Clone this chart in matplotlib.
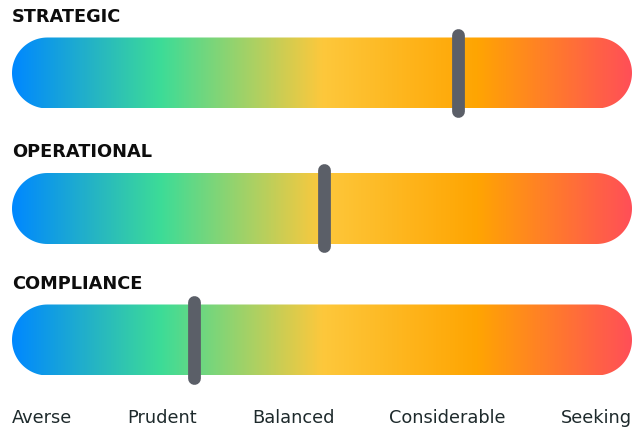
import numpy as np
import matplotlib
matplotlib.use("Agg")
import matplotlib.pyplot as plt
from matplotlib.colors import LinearSegmentedColormap
from matplotlib.patches import Polygon

# data
categories = ["STRATEGIC", "OPERATIONAL", "COMPLIANCE"]
appetite   = [72, 50.4, 29.4]          # 0 = Averse ... 100 = Seeking
scale_labels = ["Averse", "Prudent", "Balanced", "Considerable", "Seeking"]

grad_stops  = [0.0, 0.13, 0.24, 0.5, 0.75, 1.0]
grad_colors = ["#0088ff", "#25b4c4", "#3ddc97", "#fdc83c", "#ffa502", "#ff4f57"]

# layout, 1 unit = 6.2 px
W, H = 632, 433
PX = 6.2
x0 = -12 / PX
bar_centres = [73 / PX, 208.5 / PX, 340 / PX]
bar_h = 71 / PX
title_y = [17 / PX, 152 / PX, 284 / PX]
marker_half = 38 / PX
scale_y = 418 / PX

plt.rcParams['font.family'] = ['DejaVu Sans']

fig = plt.figure(figsize=(W / 100, H / 100), dpi=100)
ax = fig.add_axes([0, 0, 1, 1])
ax.set_xlim(x0, x0 + W / PX)
ax.set_ylim(H / PX, 0)
ax.axis("off")

cmap = LinearSegmentedColormap.from_list("appetite", list(zip(grad_stops, grad_colors)))
grad = np.linspace(0, 1, 512)[None, :]


def pill(xl, xr, yc, h):
    # rectangle with semicircle ends
    r = h / 2
    t = np.linspace(np.pi / 2, 3 * np.pi / 2, 60)
    left = np.c_[xl + r + r * np.cos(t), yc - r * np.sin(t)]
    t2 = np.linspace(-np.pi / 2, np.pi / 2, 60)
    right = np.c_[xr - r + r * np.cos(t2), yc - r * np.sin(t2)]
    return np.vstack([left, right])


for cat, val, yc, ty in zip(categories, appetite, bar_centres, title_y):
    box = Polygon(pill(0, 100, yc, bar_h), closed=True, facecolor="none", edgecolor="none")
    ax.add_patch(box)
    im = ax.imshow(grad, cmap=cmap, aspect="auto",
                   extent=(0, 100, yc + bar_h / 2, yc - bar_h / 2),
                   interpolation="bilinear", zorder=1)
    im.set_clip_path(box)
    ax.plot([val, val], [yc - marker_half, yc + marker_half], color="#5b5f68",
            lw=9.2, solid_capstyle="round", zorder=3)
    ax.text(0, ty, cat, fontsize=12.8, fontweight="bold", color="#0d0d0d",
            va="center", ha="left")

# scale labels, spread like "space-between"
texts = [ax.text(0, scale_y, s, fontsize=12.8, color="#1e2a2c", va="center", ha="left")
         for s in scale_labels]
fig.canvas.draw()
inv = ax.transData.inverted()
widths = []
for t in texts:
    bb = t.get_window_extent()
    a = inv.transform((bb.x0, bb.y0))[0]
    b = inv.transform((bb.x1, bb.y0))[0]
    widths.append(b - a)
gap = (100 - sum(widths)) / (len(texts) - 1)
pos = 0
for t, w in zip(texts, widths):
    t.set_x(pos)
    pos += w + gap

fig.savefig("out.png", dpi=100)
